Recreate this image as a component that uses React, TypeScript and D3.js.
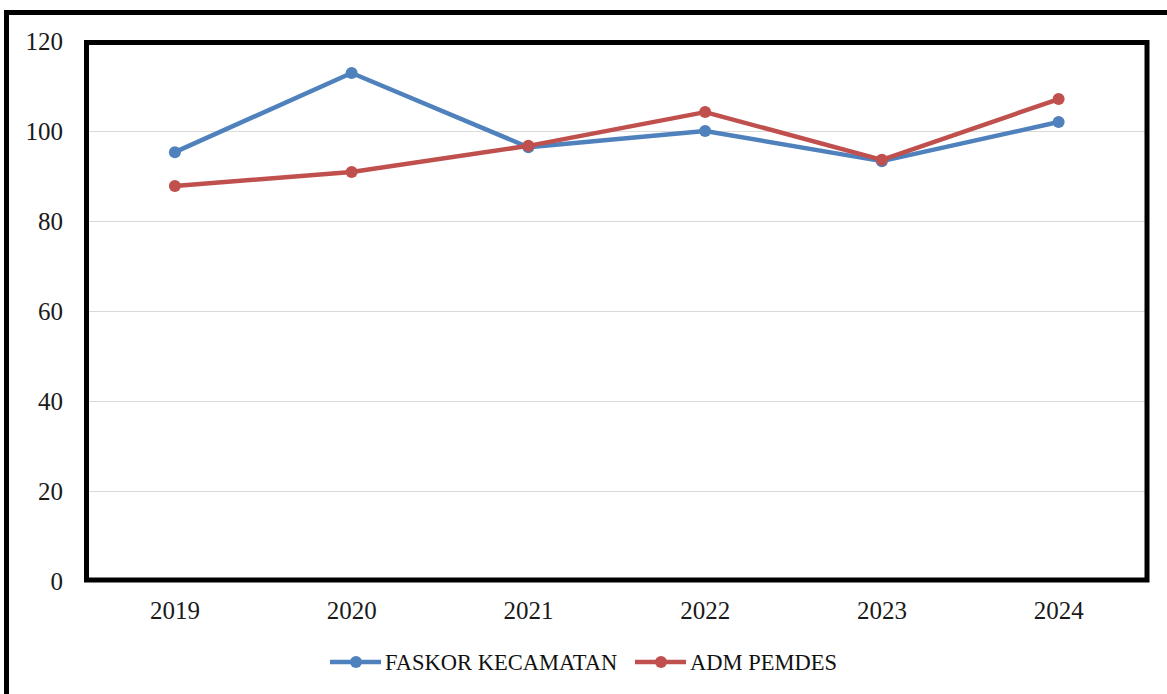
import { useEffect, useRef } from 'react'
import * as d3 from 'd3'

const years = ['2019', '2020', '2021', '2022', '2023', '2024']
const faskor = [95.3, 112.9, 96.4, 100, 93.3, 102]
const admPemdes = [87.8, 90.9, 96.7, 104.2, 93.6, 107.1]
const yTicks = [0, 20, 40, 60, 80, 100, 120]

const series = [
  { name: 'FASKOR KECAMATAN', values: faskor, color: '#4F81BD' },
  { name: 'ADM PEMDES', values: admPemdes, color: '#C0504D' },
]

const FONT = '"Liberation Serif", serif'

export default function App() {
  const ref = useRef<SVGSVGElement>(null)

  useEffect(() => {
    const el = ref.current
    if (!el) return
    const svg = d3.select(el)
    svg.selectAll('*').remove()

    const width = 1167
    const height = 694
    const plot = { left: 86.5, right: 1147, top: 42.5, bottom: 580 }

    // outer frame (only top and left edges are visible in the photo)
    svg.append('rect').attr('width', width).attr('height', height).attr('fill', '#fff')
    svg
      .append('path')
      .attr('d', `M6.5,${height} L6.5,12.5 L${width},12.5`)
      .attr('fill', 'none')
      .attr('stroke', '#000')
      .attr('stroke-width', 5)

    const x = d3.scaleBand().domain(years).range([plot.left, plot.right])
    const y = d3.scaleLinear().domain([0, 120]).range([581, 41])

    svg
      .append('g')
      .selectAll('line')
      .data(yTicks.filter((t) => t > 0 && t < 120))
      .join('line')
      .attr('x1', plot.left)
      .attr('x2', plot.right)
      .attr('y1', (d) => Math.round(y(d)) + 0.5)
      .attr('y2', (d) => Math.round(y(d)) + 0.5)
      .attr('stroke', '#d9d9d9')
      .attr('stroke-width', 1)

    svg
      .append('rect')
      .attr('x', plot.left)
      .attr('y', plot.top)
      .attr('width', plot.right - plot.left)
      .attr('height', plot.bottom - plot.top)
      .attr('fill', 'none')
      .attr('stroke', '#000')
      .attr('stroke-width', 5)

    svg
      .append('g')
      .selectAll('text')
      .data(yTicks)
      .join('text')
      .attr('x', 63)
      .attr('y', (d) => y(d))
      .attr('dy', '0.35em')
      .attr('text-anchor', 'end')
      .attr('fill', '#1a1a1a')
      .style('font-family', FONT)
      .style('font-size', '25px')
      .text((d) => d)

    svg
      .append('g')
      .selectAll('text')
      .data(years)
      .join('text')
      .attr('x', (d) => (x(d) || 0) + x.bandwidth() / 2)
      .attr('y', 610)
      .attr('dy', '0.35em')
      .attr('text-anchor', 'middle')
      .attr('fill', '#1a1a1a')
      .style('font-family', FONT)
      .style('font-size', '25px')
      .text((d) => d)

    const line = d3
      .line<number>()
      .x((_, i) => (x(years[i]) || 0) + x.bandwidth() / 2)
      .y((d) => y(d))

    series.forEach((s) => {
      const g = svg.append('g')
      g.append('path')
        .attr('d', line(s.values) || '')
        .attr('fill', 'none')
        .attr('stroke', s.color)
        .attr('stroke-width', 4.5)
        .attr('stroke-linejoin', 'round')
      g.selectAll('circle')
        .data(s.values)
        .join('circle')
        .attr('cx', (_, i) => (x(years[i]) || 0) + x.bandwidth() / 2)
        .attr('cy', (d) => y(d))
        .attr('r', 6)
        .attr('fill', s.color)
    })

    // legend
    const legendX = [330, 635]
    series.forEach((s, i) => {
      const g = svg.append('g').attr('transform', `translate(${legendX[i]},662)`)
      g.append('line').attr('x1', 0).attr('x2', 51).attr('stroke', s.color).attr('stroke-width', 4.5)
      g.append('circle').attr('cx', 26).attr('r', 6).attr('fill', s.color)
      g.append('text')
        .attr('x', 55)
        .attr('dy', '0.35em')
        .attr('fill', '#111')
        .style('font-family', FONT)
        .style('font-size', '22.5px')
        .text(s.name)
    })
  }, [])

  return (
    <svg
      ref={ref}
      width={1167}
      height={694}
      style={{ position: 'absolute', left: 0, top: 0, display: 'block' }}
    />
  )
}
